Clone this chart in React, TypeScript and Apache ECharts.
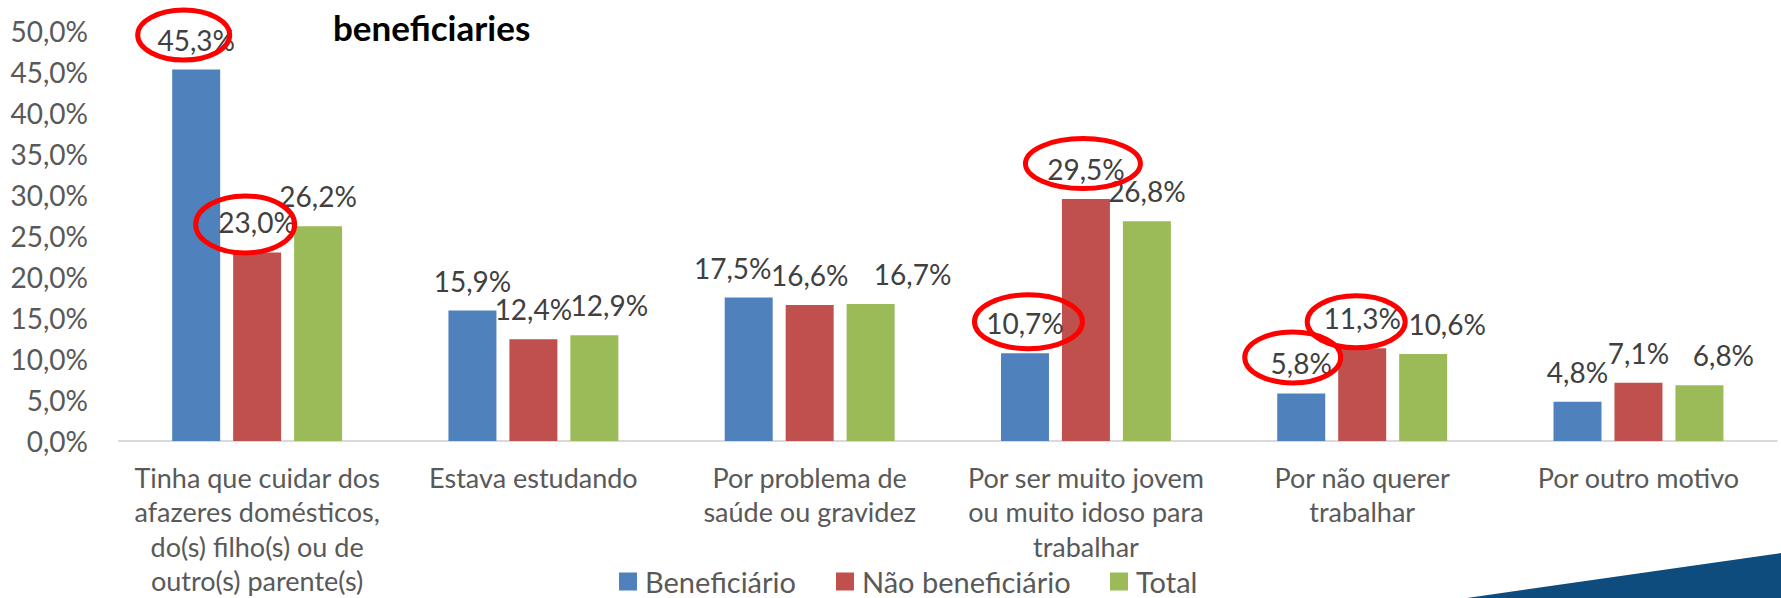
import React, { useEffect, useRef } from "react";
import * as echarts from "echarts";

const categories = [
  "Tinha que cuidar dos afazeres domésticos, do(s) filho(s) ou de outro(s) parente(s)",
  "Estava estudando",
  "Por problema de saúde ou gravidez",
  "Por ser muito jovem ou muito idoso para trabalhar",
  "Por não querer trabalhar",
  "Por outro motivo",
];
const wrappedLabels = [
  "Tinha que cuidar dos\nafazeres domésticos,\ndo(s) filho(s) ou de\noutro(s) parente(s)",
  "Estava estudando",
  "Por problema de\nsaúde ou gravidez",
  "Por ser muito jovem\nou muito idoso para\ntrabalhar",
  "Por não querer\ntrabalhar",
  "Por outro motivo",
];
const seriesNames = ["Beneficiário", "Não beneficiário", "Total"];
const beneficiario = [45.3, 15.9, 17.5, 10.7, 5.8, 4.8];
const naoBeneficiario = [23.0, 12.4, 16.6, 29.5, 11.3, 7.1];
const total = [26.2, 12.9, 16.7, 26.8, 10.6, 6.8];
const yTicks = { min: 0, max: 50, interval: 5 };
const titleText = "beneficiaries";

// label nudges (style only), per series and category
const labelShift = [
  [0, 0, -16, 0, 0, 0],
  [0, 0, 0, 0, 0, 0],
  [0, 15, 42, 0, 24, 24],
];
// highlighted labels: [seriesIndex, categoryIndex, dx, dy, rx, ry]
const highlights = [
  [0, 0, -12.5, -34.5, 46, 25],
  [1, 0, -12, -28, 49.5, 28.5],
  [1, 3, -3, -35.5, 57.5, 25],
  [0, 3, 3.5, -31.5, 54, 27],
  [0, 4, -8.5, -36, 48, 25.5],
  [1, 4, -6, -26.5, 49, 26],
];

const colors = ["#4f81bd", "#c0504d", "#9bbb59"];
const legendLefts = [619, 836, 1110];
const FONT = "Lato";
const fmt = (v: number) => v.toFixed(1).replace(".", ",") + "%";

export default function App() {
  const ref = useRef<HTMLDivElement>(null);
  useEffect(() => {
    if (!ref.current) return;
    const chart = echarts.init(ref.current, null, { renderer: "svg" });
    const allData = [beneficiario, naoBeneficiario, total];
    const baseGraphic: any[] = [
      {
        type: "polygon",
        shape: { points: [[1467, 598], [1781, 553], [1781, 598]] },
        style: { fill: "#0f4c7e" },
        silent: true,
      },
    ];
    chart.setOption({
      animation: false,
      textStyle: { fontFamily: FONT },
      title: {
        text: titleText,
        left: 333,
        top: 9,
        padding: 0,
        textStyle: { fontFamily: FONT, fontWeight: "bold", fontSize: 35, color: "#000" },
      },
      legend: seriesNames.map((name, i) => ({
        data: [name],
        left: legendLefts[i],
        top: 567,
        padding: 0,
        itemWidth: 18,
        itemHeight: 18,
        icon: "rect",
        textStyle: { fontFamily: FONT, fontSize: 29, color: "#595959", padding: [0, 0, 0, 3] },
      })),
      grid: {
        left: 119,
        right: 4.4,
        top: 31,
        height: 410,
        containLabel: false,
        outerBoundsMode: "none",
      },
      xAxis: {
        type: "category",
        data: categories,
        axisLine: { lineStyle: { color: "#d9d9d9", width: 2 } },
        axisTick: { show: false },
        axisLabel: {
          interval: 0,
          margin: 19,
          fontFamily: FONT,
          fontSize: 27,
          lineHeight: 34.5,
          color: "#595959",
          formatter: (_v: string, i: number) => wrappedLabels[i],
        },
      },
      yAxis: {
        type: "value",
        min: yTicks.min,
        max: yTicks.max,
        interval: yTicks.interval,
        splitLine: { show: false },
        axisLine: { show: false },
        axisTick: { show: false },
        axisLabel: {
          margin: 31,
          fontFamily: FONT,
          fontSize: 28,
          color: "#595959",
          formatter: (v: number) => fmt(v),
        },
      },
      series: allData.map((arr, si) => ({
        name: seriesNames[si],
        type: "bar",
        barWidth: 48,
        barGap: "27%",
        itemStyle: { color: colors[si] },
        label: {
          show: true,
          position: "top",
          distance: 16,
          fontFamily: FONT,
          fontSize: 28,
          color: "#404040",
          formatter: (p: any) => fmt(p.value),
        },
        data: arr.map((v, ci) => ({
          value: v,
          label: { offset: [labelShift[si][ci], 0] },
        })),
      })),
      graphic: baseGraphic,
    });

    const ells: any[] = [];
    highlights.forEach(([si, ci, dx, dy, rx, ry]) => {
      const data = (chart as any).getModel().getSeriesByIndex(si).getData();
      const lay = data.getItemLayout(ci);
      if (!lay) return;
      const cx = lay.x + lay.width / 2;
      const top = Math.min(lay.y, lay.y + lay.height);
      ells.push({
        type: "ellipse",
        shape: { cx: cx + dx, cy: top + dy, rx, ry },
        style: { fill: "none", stroke: "#ff0000", lineWidth: 5 },
        z: 100,
        silent: true,
      });
    });
    chart.setOption({ graphic: [...baseGraphic, ...ells] });

    return () => chart.dispose();
  }, []);
  return (
    <div
      ref={ref}
      style={{ position: "fixed", left: 0, top: 0, width: 1781, height: 598, background: "#fff" }}
    />
  );
}
